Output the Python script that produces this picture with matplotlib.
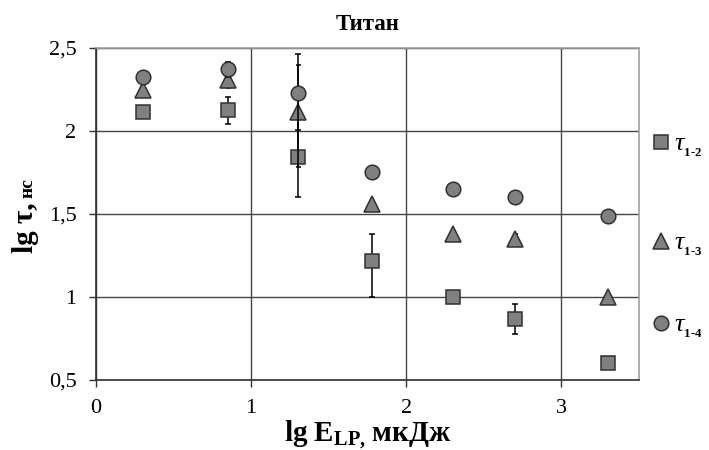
import matplotlib
matplotlib.use("Agg")
import matplotlib.pyplot as plt
from matplotlib.lines import Line2D

# lg E_LP (мкДж) and lg tau (нс)
lg_E = [0.30, 0.85, 1.30, 1.78, 2.30, 2.70, 3.30]
tau12 = [2.116, 2.127, 1.845, 1.219, 1.002, 0.866, 0.601]
tau13 = [2.247, 2.307, 2.116, 1.560, 1.380, 1.348, 1.002]
tau14 = [2.323, 2.372, 2.231, 1.751, 1.651, 1.604, 1.488]

# error bars (lower, upper)
err12_lo = [0, 0.083, 0.241, 0.217, 0, 0.089, 0]
err12_hi = [0, 0.080, 0.240, 0.159, 0, 0.089, 0]
err13_lo = [0, 0.050, 0.335, 0, 0, 0.030, 0]
err13_hi = [0, 0.050, 0.282, 0, 0, 0.030, 0]
err14_lo = [0, 0.045, 0.225, 0, 0, 0, 0]
err14_hi = [0, 0.045, 0.233, 0, 0, 0, 0]

labels = [r"$\tau_{_{\mathbf{1\text{-}2}}}$", r"$\tau_{_{\mathbf{1\text{-}3}}}$",
          r"$\tau_{_{\mathbf{1\text{-}4}}}$"]
x_ticks = [0, 1, 2, 3]
y_ticks = [0.5, 1, 1.5, 2, 2.5]
y_tick_labels = ["0,5", "1", "1,5", "2", "2,5"]
title = "Титан"

plt.rcParams["font.family"] = ["Liberation Serif", "DejaVu Serif"]
plt.rcParams["mathtext.fontset"] = "custom"
plt.rcParams["mathtext.rm"] = "Liberation Serif"
plt.rcParams["mathtext.it"] = "Liberation Serif:italic"
plt.rcParams["mathtext.bf"] = "Liberation Serif:bold"

FACE = "#808080"
EDGE = "#303030"

fig = plt.figure(figsize=(7.09, 4.5), dpi=100)
ax = fig.add_axes([96 / 709, 1 - 380 / 450, (639 - 96) / 709, (380 - 48) / 450])

series = [
    (tau12, err12_lo, err12_hi, "s", 10, 2.5),
    (tau13, err13_lo, err13_hi, "^", 11, 1.8),
    (tau14, err14_lo, err14_hi, "o", 10.5, 2.5),
]
handles = []
for i, (ys, lo, hi, mk, ms, cap) in enumerate(series):
    z = 3 + i
    ax.errorbar(lg_E, ys, yerr=[lo, hi], fmt="none", ecolor="black",
                elinewidth=1.1, capsize=cap, capthick=1.1, zorder=z)
    ax.plot(lg_E, ys, linestyle="none", marker=mk, markersize=ms,
            markerfacecolor=FACE, markeredgecolor=EDGE, markeredgewidth=1.1,
            zorder=z + 0.5, clip_on=False)
    handles.append(Line2D([], [], linestyle="none", marker=mk, markersize=ms,
                          markerfacecolor=FACE, markeredgecolor=EDGE,
                          markeredgewidth=1.1))

ax.set_xlim(0, 3.5)
ax.set_ylim(0.5, 2.5)
ax.set_xticks(x_ticks)
ax.set_xticklabels([str(t) for t in x_ticks])
ax.set_yticks(y_ticks)
ax.set_yticklabels(y_tick_labels)
ax.tick_params(direction="out", length=5, width=1, color=EDGE,
               labelsize=16, pad=9)
ax.grid(True, color="#454545", linewidth=1)
ax.set_axisbelow(True)
for side in ["left", "bottom"]:
    ax.spines[side].set_color(EDGE)
    ax.spines[side].set_linewidth(1.2)
for side in ["top", "right"]:
    ax.spines[side].set_color("#a0a0a0")
    ax.spines[side].set_linewidth(1.2)

ax.set_title(title, fontsize=16.5, fontweight="bold", pad=13)
ax.set_xlabel(r"lg E$_{\mathbf{LP,}}\,$мкДж", fontsize=21, fontweight="bold",
              labelpad=0)

# y label: "нс" is smaller than "lg τ,"
t1 = fig.text(33 / 709, 1 - 253 / 450, "lg τ,", rotation=90,
              rotation_mode="anchor", ha="left", va="baseline",
              fontsize=21, fontweight="bold")
fig.canvas.draw()
bb = t1.get_window_extent(renderer=fig.canvas.get_renderer())
fig.text(33 / 709, (bb.y1 + 4) / 450, "нс", rotation=90,
         rotation_mode="anchor", ha="left", va="baseline",
         fontsize=14, fontweight="bold")

# legend entries, one per series, spaced like the reference
legend_y = [146, 245, 327]
for h, lab, yy in zip(handles, labels, legend_y):
    fig.legend([h], [lab], loc="center left",
               bbox_to_anchor=(652 / 709, 1 - yy / 450), frameon=False,
               fontsize=19, handlelength=0.7, handletextpad=0.15,
               borderpad=0, borderaxespad=0)

fig.savefig("out.png", dpi=100)
